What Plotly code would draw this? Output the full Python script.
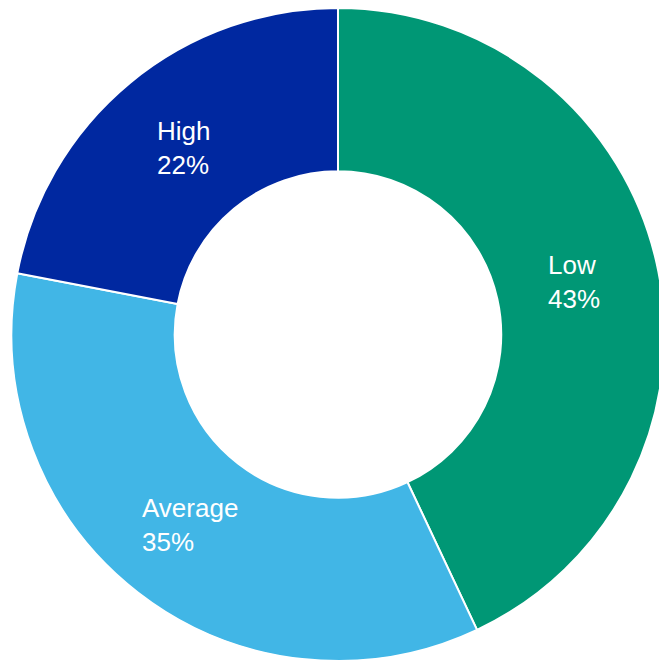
import math
import plotly.graph_objects as go

categories = ["Low", "Average", "High"]
values = [43, 35, 22]
colors = ["#009775", "#41B6E6", "#0028A0"]

W, H = 676, 661
MT = 8

fig = go.Figure(go.Pie(
    labels=categories,
    values=values,
    hole=0.5,
    sort=False,
    direction="clockwise",
    rotation=0,
    marker=dict(colors=colors, line=dict(color="white", width=2)),
    textinfo="none",
    showlegend=False,
    hoverinfo="label+percent",
))

# Left-aligned labels placed at each slice's mid angle (derived from the data)
total = sum(values)
plot_h = H - MT
r_px = plot_h / 2.0
label_r = 0.74 * r_px
cum = 0
annotations = []
for cat, v in zip(categories, values):
    mid = (cum + v / 2.0) / total * 2 * math.pi
    cum += v
    dx = label_r * math.sin(mid)
    dy = label_r * math.cos(mid)
    annotations.append(dict(
        x=0.5 + dx / W, y=0.5 + dy / plot_h,
        xref="paper", yref="paper",
        text=f"{cat}<br>{round(v / total * 100)}%",
        showarrow=False, align="left",
        xanchor="center", yanchor="middle",
        font=dict(family="Liberation Sans, Arial, sans-serif", size=26, color="white"),
    ))

fig.update_layout(
    width=W, height=H, autosize=False,
    margin=dict(l=0, r=0, t=MT, b=0),
    paper_bgcolor="white", plot_bgcolor="white",
    annotations=annotations,
)

fig.write_html("out.html", post_script="document.body.style.margin='0';document.body.style.overflow='hidden';document.documentElement.style.overflow='hidden';")
